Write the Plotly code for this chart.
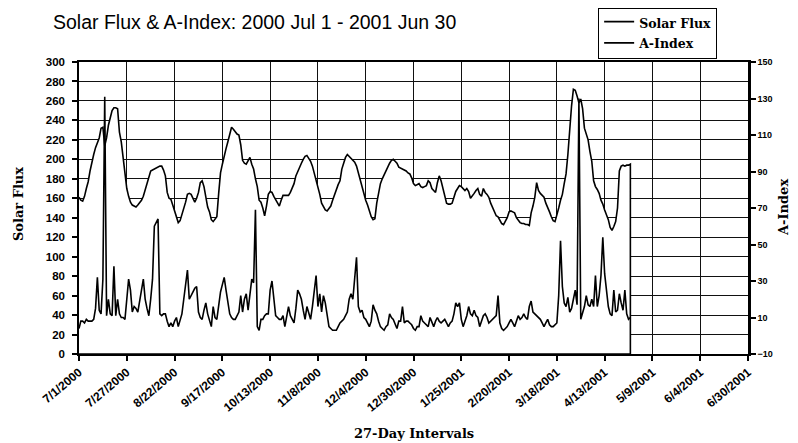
import pandas as pd
import plotly.graph_objects as go

start_date = "2000-07-01"

# Daily 10.7cm solar flux, 2000-07-01 .. 2001-04-27
solar_flux = [
    161, 158, 157, 162, 170, 177, 188, 198, 205, 212,
    218, 222, 232, 233, 214, 222, 235, 244, 250, 253,
    253, 252, 228, 218, 200, 188, 170, 162, 156, 153,
    152, 151, 153, 155, 158, 162, 168, 175, 180, 188,
    189, 190, 191, 192, 193, 193, 189, 183, 166, 160,
    159, 153, 147, 141, 135, 137, 143, 148, 156, 164,
    165, 164, 160, 156, 160, 166, 176, 178, 172, 160,
    151, 146, 138, 136, 138, 141, 165, 186, 195, 205,
    211, 218, 226, 233, 231, 228, 226, 225, 215, 199,
    196, 195, 199, 202, 195, 190, 180, 172, 158, 156,
    150, 142, 152, 164, 167, 166, 162, 159, 155, 152,
    158, 163, 163, 163, 163, 166, 170, 175, 183, 188,
    192, 196, 200, 203, 204, 201, 198, 193, 186, 178,
    170, 164, 155, 151, 148, 147, 149, 152, 158, 164,
    168, 174, 178, 190, 196, 202, 205, 203, 201, 199,
    197, 193, 186, 178, 170, 164, 158, 153, 146, 141,
    138, 139, 155, 165, 175, 180, 184, 189, 193, 196,
    199, 200, 198, 196, 192, 191, 190, 189, 188, 186,
    185, 181, 175, 173, 174, 175, 172, 171, 172, 173,
    178, 176, 170, 168, 166, 176, 183, 178, 170, 164,
    155, 154, 154, 155, 162, 167, 170, 173, 172, 170,
    168, 170, 167, 160, 162, 165, 168, 170, 164, 162,
    170, 166, 164, 161, 155, 151, 146, 142, 141, 138,
    134, 133, 136, 140, 146, 147, 146, 145, 140, 137,
    135, 134, 134, 133, 133, 132, 145, 152, 161, 176,
    168, 165, 163, 161, 155, 151, 146, 141, 137, 136,
    142, 150, 158, 164, 175, 185, 205, 233, 255, 272,
    271, 265, 258, 262, 252, 232, 225, 220, 208, 198,
    178, 172, 169, 165, 158, 154, 148, 143, 138, 130,
    127, 131, 136, 150, 188, 193, 194, 193, 194, 194,
    195,
]

# Daily planetary A-index, same days
a_index = [
    4, 8, 8, 7, 9, 8, 8, 8, 9, 15,
    32, 14, 12, 31, 131, 11, 20, 12, 11, 38,
    11, 20, 12, 10, 10, 9, 20, 31, 25, 13,
    16, 15, 13, 18, 25, 31, 20, 15, 11, 20,
    31, 60, 62, 64, 12, 11, 12, 12, 8, 5,
    7, 5, 8, 10, 5, 8, 12, 20, 27, 36,
    20, 22, 24, 26, 27, 13, 10, 9, 14, 18,
    12, 8, 5, 16, 10, 9, 18, 24, 28, 32,
    25, 18, 12, 10, 9, 9, 11, 13, 22, 13,
    20, 23, 14, 22, 31, 29, 69, 5, 3, 9,
    9, 11, 12, 12, 25, 30, 22, 11, 10, 9,
    9, 11, 5, 10, 16, 11, 9, 7, 15, 25,
    23, 20, 14, 9, 16, 12, 9, 16, 25, 33,
    16, 23, 13, 22, 18, 11, 5, 4, 3, 3,
    3, 5, 7, 8, 9, 11, 13, 20, 23, 20,
    30, 43, 16, 13, 14, 10, 9, 7, 5, 8,
    17, 14, 12, 8, 5, 4, 3, 5, 6, 12,
    10, 9, 6, 4, 8, 8, 16, 7, 8, 8,
    7, 6, 4, 3, 5, 5, 11, 8, 7, 6,
    5, 10, 7, 5, 8, 10, 8, 7, 8, 9,
    7, 5, 7, 8, 12, 18, 16, 18, 9, 5,
    8, 11, 16, 12, 11, 14, 11, 10, 5, 8,
    11, 12, 10, 7, 8, 9, 10, 11, 22, 7,
    4, 3, 4, 5, 7, 9, 7, 5, 8, 11,
    9, 10, 12, 10, 9, 16, 19, 13, 12, 11,
    10, 9, 7, 5, 7, 9, 6, 5, 5, 6,
    7, 22, 52, 27, 18, 16, 21, 13, 15, 20,
    25, 17, 130, 9, 13, 16, 22, 17, 16, 20,
    16, 33, 16, 22, 33, 54, 34, 23, 16, 12,
    11, 25, 13, 14, 23, 18, 14, 25, 12, 9,
    10,
]

x_start = "2000-07-01"
x_end = "2001-06-30"
interval_days = 26

dates = pd.date_range(start_date, periods=len(solar_flux), freq="D")

# Area polygon for the flux (closed down to zero, like an area chart)
poly_x = list(dates) + [dates[-1], dates[0]]
poly_y = list(solar_flux) + [0, 0]

fig = go.Figure()
fig.add_trace(go.Scatter(
    x=poly_x, y=poly_y, name="Solar Flux", mode="lines",
    fill="toself", fillcolor="white",
    line=dict(color="black", width=1.6),
    yaxis="y",
))
fig.add_trace(go.Scatter(
    x=dates, y=a_index, name="A-Index", mode="lines",
    line=dict(color="black", width=1.6),
    yaxis="y2",
))

sans = "Liberation Sans, Arial"
serif_bold = "DejaVu Serif"

W, H = 790, 435
L, R, T, B = 71, 50, 54, 89

fig.update_layout(
    width=W, height=H,
    margin=dict(l=L, r=R, t=T, b=B, autoexpand=False),
    paper_bgcolor="white", plot_bgcolor="white",
    title=dict(
        text="Solar Flux & A-Index: 2000 Jul 1 - 2001 Jun 30",
        x=45 / W, xref="container", xanchor="left",
        y=1 - 14.5 / H, yref="container", yanchor="middle",
        font=dict(family=sans, size=19.5, color="black"),
    ),
    showlegend=True,
    legend=dict(
        x=0.776, y=1.185, xanchor="left", yanchor="top",
        bordercolor="black", borderwidth=1, bgcolor="white",
        font=dict(family=serif_bold, size=12.5, color="black", weight="bold"),
        itemwidth=30, tracegroupgap=0,
    ),
    xaxis=dict(
        type="date",
        range=[x_start, x_end],
        tick0=x_start, dtick=interval_days * 86400000,
        tickformat="%-m/%-d/%Y", tickangle=-40,
        tickfont=dict(family=sans, size=12, color="black", weight="bold"),
        ticks="outside", ticklen=5, tickcolor="black", tickwidth=1.5,
        showline=True, linecolor="black", linewidth=1.5, mirror=True,
        showgrid=True, gridcolor="#111", gridwidth=1,
        zeroline=False,
    ),
    yaxis=dict(
        range=[0, 300], dtick=20, tick0=0,
        tickfont=dict(family=sans, size=11.5, color="black", weight="bold"),
        ticks="outside", ticklen=5, tickcolor="black", tickwidth=1.5,
        showline=True, linecolor="black", linewidth=1.5,
        showgrid=True, gridcolor="#111", gridwidth=1,
        zeroline=False, ticklabelstandoff=5,
    ),
    yaxis2=dict(
        range=[-10, 150], dtick=20, tick0=-10,
        overlaying="y", side="right",
        tickfont=dict(family=sans, size=9, color="black", weight="bold"),
        ticks="outside", ticklen=5, tickcolor="black", tickwidth=1.5,
        showline=True, linecolor="black", linewidth=2.5,
        showgrid=False, zeroline=False,
    ),
    annotations=[
        dict(text="<b>Solar Flux</b>", xref="paper", yref="paper",
             x=(10.5 - L) / 669, y=0.515, textangle=-90, showarrow=False,
             xanchor="center", yanchor="middle",
             font=dict(family=serif_bold, size=13, color="black")),
        dict(text="<b>A-Index</b>", xref="paper", yref="paper",
             x=(775 - L) / 669, y=0.50, textangle=-90, showarrow=False,
             xanchor="center", yanchor="middle",
             font=dict(family=serif_bold, size=13, color="black")),
        dict(text="<b>27-Day Intervals</b>", xref="paper", yref="paper",
             x=(406 - L) / 669, y=(346 - 425.5) / 292, showarrow=False,
             xanchor="center", yanchor="middle",
             font=dict(family=serif_bold, size=13, color="black")),
    ],
)

fig.write_html("out.html")
